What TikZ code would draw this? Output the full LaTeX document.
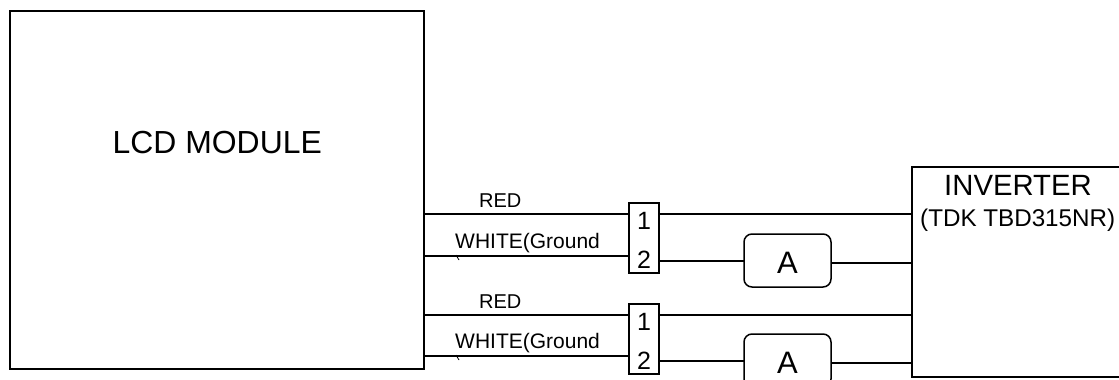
\documentclass[tikz,border=0pt]{standalone}
\usepackage{fontspec}
\setmainfont{Liberation Sans}
\newcommand{\fsz}[1]{\fontsize{#1pt}{#1pt}\selectfont}
\tikzset{
  wire/.style={line width=1.5pt,black},
  boxed/.style={draw=black,line width=1.5pt,inner sep=0pt,outer sep=0pt,anchor=north west},
  lab/.style={inner sep=0pt,anchor=base west,black},
  fuse/.style={boxed,rounded corners=8pt,minimum width=87pt,minimum height=53pt},
  conn/.style={boxed,minimum width=30pt,minimum height=70pt},
}
\begin{document}
\begin{tikzpicture}[x=1pt,y=-1pt]
\useasboundingbox (0,0) rectangle (1119,380);
\clip (0,0) rectangle (1119,380);
\node[boxed,minimum width=414pt,minimum height=358pt] (lcd) at (10,11) {};
\node[lab] (lcdt) at (112.5,153.5) {\fsz{31.9}LCD MODULE};
\node[boxed,minimum width=230pt,minimum height=210pt] (inv) at (912,167) {};
\node[lab] (invt) at (944,195) {\fsz{29.3}INVERTER};
\node[lab] (invs) at (920,226) {\fsz{24.2}(TDK TBD315NR)};
\node[conn] (ca) at (629,203) {};
\node[conn] (cb) at (629,304) {};
\node[fuse] (fa) at (744,234) {};
\node[fuse] (fb) at (744,334) {};
\node[lab] (fat) at (777,273) {\fsz{31}A};
\node[lab] (fbt) at (777,373) {\fsz{31}A};
\node[lab] (caone) at (637,229) {\fsz{25}1};
\node[lab] (catwo) at (637,268) {\fsz{25}2};
\node[lab] (cbone) at (637,330) {\fsz{25}1};
\node[lab] (cbtwo) at (637,369) {\fsz{25}2};
\node[lab] (r1) at (479,207) {\fsz{20}RED};
\node[lab] (r2) at (479,308) {\fsz{20}RED};
\node[lab] (w1) at (455,248) {\fsz{21}WHITE(Ground};
\node[lab] (w2) at (455,348) {\fsz{21}WHITE(Ground};
\coordinate (a1) at (629,214);
\coordinate (a2) at (629,256);
\coordinate (a3) at (659,214);
\coordinate (a4) at (659,261);
\coordinate (a5) at (831,263);
\coordinate (b1) at (629,315);
\coordinate (b2) at (629,356);
\coordinate (b3) at (659,315);
\coordinate (b4) at (659,361);
\coordinate (b5) at (831,363);
\draw[wire] (lcd.east |- a1) -- (a1);
\draw[wire] (lcd.east |- a2) -- (a2);
\draw[wire] (lcd.east |- b1) -- (b1);
\draw[wire] (lcd.east |- b2) -- (b2);
\draw[wire] (a3) -- (inv.west |- a3);
\draw[wire] (a4) -- (fa.west |- a4);
\draw[wire] (a5) -- (inv.west |- a5);
\draw[wire] (b3) -- (inv.west |- b3);
\draw[wire] (b4) -- (fb.west |- b4);
\draw[wire] (b5) -- (inv.west |- b5);
\draw[line width=0.8pt] (456,255) -- (459,260);
\draw[line width=0.8pt] (456,355) -- (459,360);
\end{tikzpicture}
\end{document}
